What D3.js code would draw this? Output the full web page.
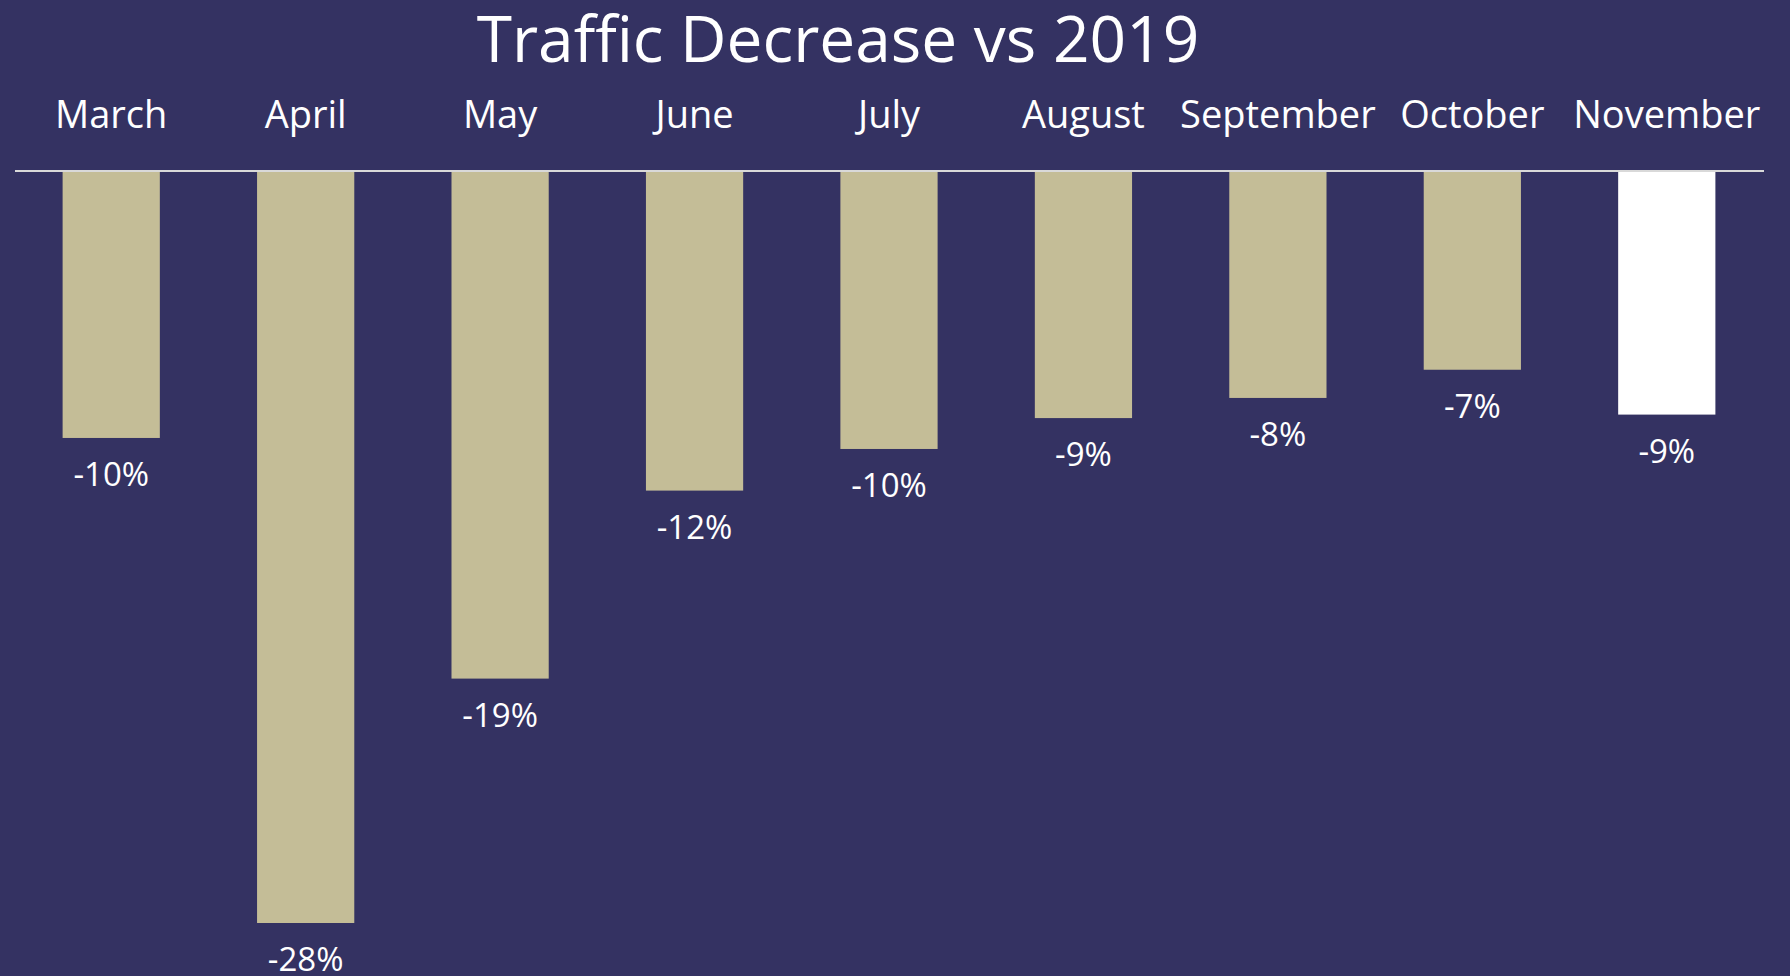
<!DOCTYPE html>
<html>
<head>
<meta charset="utf-8">
<script src="https://cdn.jsdelivr.net/npm/d3@7"></script>
<style>
  html, body { margin: 0; padding: 0; background: #343262; overflow: hidden; }
</style>
</head>
<body>
<div id="chart"></div>
<script>
// data
var months = ["March", "April", "May", "June", "July", "August", "September", "October", "November"];
var change = [-9.94, -28.0, -18.9, -11.9, -10.35, -9.2, -8.45, -7.4, -9.07];
var highlight = ["November"];

var width = 1790;
var height = 976;

var svg = d3.select("#chart")
  .append("svg")
  .attr("width", width)
  .attr("height", height)
  .style("background-color", "#343262");

var data = months.map(function (m, i) { return { month: m, value: change[i] }; });

var x = d3.scaleBand()
  .domain(months)
  .range([14, 1764])
  .paddingInner(0.5)
  .paddingOuter(0.25);

var y = d3.scaleLinear()
  .domain([0, -28])
  .range([171, 923]);

// title
svg.append("text")
  .attr("x", 838)
  .attr("y", 62)
  .attr("text-anchor", "middle")
  .attr("font-family", "'Open Sans', sans-serif")
  .attr("font-size", "64px")
  .attr("fill", "white")
  .text("Traffic Decrease vs 2019");

// month names on top
var xAxis = svg.append("g")
  .attr("transform", "translate(0,128)")
  .call(d3.axisTop(x).tickSize(0).tickPadding(0));
xAxis.select(".domain").remove();
xAxis.selectAll("text")
  .attr("font-family", "'Open Sans', sans-serif")
  .attr("font-size", "38px")
  .attr("fill", "white");

// bars
svg.selectAll(".bar")
  .data(data)
  .enter()
  .append("rect")
  .attr("class", "bar")
  .attr("x", function (d) { return x(d.month); })
  .attr("y", y(0))
  .attr("width", x.bandwidth())
  .attr("height", function (d) { return y(d.value) - y(0); })
  .attr("fill", function (d) { return highlight.indexOf(d.month) >= 0 ? "#ffffff" : "#C4BD97"; });

// zero line
svg.append("line")
  .attr("x1", 15)
  .attr("x2", 1764)
  .attr("y1", y(0))
  .attr("y2", y(0))
  .attr("stroke", "#d9d9d9")
  .attr("stroke-width", 2);

// value labels under bars
svg.selectAll(".value-label")
  .data(data)
  .enter()
  .append("text")
  .attr("class", "value-label")
  .attr("x", function (d) { return x(d.month) + x.bandwidth() / 2; })
  .attr("y", function (d) { return y(d.value) + 48; })
  .attr("text-anchor", "middle")
  .attr("font-family", "'Open Sans', sans-serif")
  .attr("font-size", "33px")
  .attr("fill", "white")
  .text(function (d) { return Math.round(d.value) + "%"; });
</script>
</body>
</html>
